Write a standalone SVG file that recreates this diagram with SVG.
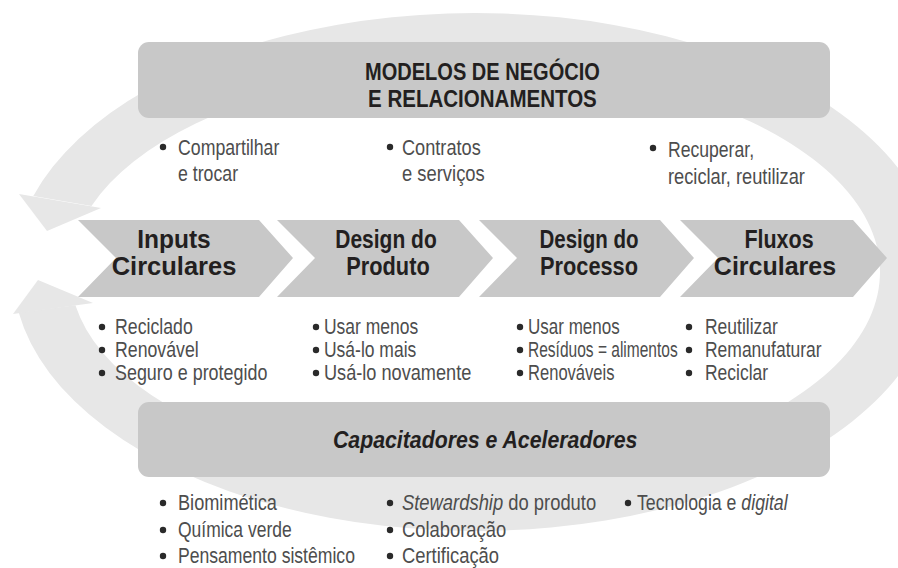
<svg xmlns="http://www.w3.org/2000/svg" width="898" height="568" viewBox="0 0 898 568">
<style>
.ring{fill:#e7e7e7}
.box{fill:#c8c8c8}
.hd{font-family:"Liberation Sans",Arial,sans-serif;font-weight:bold;fill:#231f20}
.tx{font-family:"Liberation Sans",Arial,sans-serif;fill:#4d4d4d;font-size:22px}
.it{font-style:italic}
.dot{fill:#2a2a2a}
</style>
<rect width="898" height="568" fill="#ffffff"/>
<g id="connectors">
  <path class="ring" fill-rule="evenodd" d="M33.3,196 A462,259 0 1 1 18.7,312.6 L75.4,305.3 A405,205 0 1 0 91.5,206 Z"/>
  <polygon class="ring" points="19,194 101,208 47,231"/>
  <polygon class="ring" points="13,314 93,303 38,280"/>
</g>
<g id="node-modelos">
  <rect class="box" x="138" y="42" width="692" height="76" rx="11"/>
  <text class="hd" font-size="24.5" transform="translate(365 80) scale(0.818 1)">MODELOS DE NEGÓCIO</text>
  <text class="hd" font-size="24.5" transform="translate(368 107) scale(0.838 1)">E RELACIONAMENTOS</text>
</g>
<g id="node-modelos-itens">
  <circle class="dot" cx="163" cy="147" r="3.2"/>
  <text class="tx" transform="translate(178 155) scale(0.805 1)">Compartilhar</text>
  <text class="tx" transform="translate(178 181) scale(0.805 1)">e trocar</text>
  <circle class="dot" cx="390" cy="147" r="3.2"/>
  <text class="tx" transform="translate(402 155) scale(0.826 1)">Contratos</text>
  <text class="tx" transform="translate(402 181) scale(0.836 1)">e serviços</text>
  <circle class="dot" cx="653" cy="148" r="3.2"/>
  <text class="tx" font-size="24" transform="translate(668 157) scale(0.8 1)">Recuperar,</text>
  <text class="tx" font-size="24" transform="translate(668 184) scale(0.83 1)">reciclar, reutilizar</text>
</g>
<g id="node-inputs">
  <polygon class="box" points="78,220 259,220 293,258 259,297 78,297 116,258"/>
  <text class="hd" font-size="25" text-anchor="middle" transform="translate(174 248) scale(0.98 1)">Inputs</text>
  <text class="hd" font-size="25" text-anchor="middle" transform="translate(174 275) scale(1.02 1)">Circulares</text>
  <circle class="dot" cx="102" cy="327" r="3.2"/>
  <text class="tx" transform="translate(115 334) scale(0.805 1)">Reciclado</text>
  <circle class="dot" cx="102" cy="350" r="3.2"/>
  <text class="tx" transform="translate(115 357) scale(0.805 1)">Renovável</text>
  <circle class="dot" cx="102" cy="373" r="3.2"/>
  <text class="tx" transform="translate(115 380) scale(0.815 1)">Seguro e protegido</text>
</g>
<g id="node-produto">
  <polygon class="box" points="277,220 459,220 493,258 459,297 277,297 315,258"/>
  <text class="hd" font-size="25" text-anchor="middle" transform="translate(386 248) scale(0.84 1)">Design do</text>
  <text class="hd" font-size="25" text-anchor="middle" transform="translate(388 275) scale(0.87 1)">Produto</text>
  <circle class="dot" cx="316" cy="327" r="3.2"/>
  <text class="tx" transform="translate(324 334) scale(0.795 1)">Usar menos</text>
  <circle class="dot" cx="316" cy="350" r="3.2"/>
  <text class="tx" transform="translate(324 357) scale(0.795 1)">Usá-lo mais</text>
  <circle class="dot" cx="316" cy="373" r="3.2"/>
  <text class="tx" transform="translate(324 380) scale(0.826 1)">Usá-lo novamente</text>
</g>
<g id="node-processo">
  <polygon class="box" points="479,220 660,220 694,258 660,297 479,297 517,258"/>
  <text class="hd" font-size="25" text-anchor="middle" transform="translate(589 248) scale(0.82 1)">Design do</text>
  <text class="hd" font-size="25" text-anchor="middle" transform="translate(589 275) scale(0.87 1)">Processo</text>
  <circle class="dot" cx="520" cy="327" r="3.2"/>
  <text class="tx" transform="translate(528 334) scale(0.774 1)">Usar menos</text>
  <circle class="dot" cx="520" cy="350" r="3.2"/>
  <text class="tx" transform="translate(528 357) scale(0.706 1)">Resíduos = alimentos</text>
  <circle class="dot" cx="520" cy="373" r="3.2"/>
  <text class="tx" transform="translate(528 380) scale(0.753 1)">Renováveis</text>
</g>
<g id="node-fluxos">
  <polygon class="box" points="680,220 853,220 887,258 853,297 680,297 718,258"/>
  <text class="hd" font-size="25" text-anchor="middle" transform="translate(779 248) scale(0.86 1)">Fluxos</text>
  <text class="hd" font-size="25" text-anchor="middle" transform="translate(775 275) scale(1.0 1)">Circulares</text>
  <circle class="dot" cx="689" cy="327" r="3.2"/>
  <text class="tx" transform="translate(705 334) scale(0.795 1)">Reutilizar</text>
  <circle class="dot" cx="689" cy="350" r="3.2"/>
  <text class="tx" transform="translate(705 357) scale(0.795 1)">Remanufaturar</text>
  <circle class="dot" cx="689" cy="373" r="3.2"/>
  <text class="tx" transform="translate(705 380) scale(0.795 1)">Reciclar</text>
</g>
<g id="node-capacitadores">
  <rect class="box" x="138" y="402" width="692" height="75" rx="11"/>
  <text class="hd it" font-size="24" transform="translate(333 448) scale(0.887 1)">Capacitadores e Aceleradores</text>
</g>
<g id="node-capacitadores-itens">
  <circle class="dot" cx="163" cy="503" r="3.2"/>
  <text class="tx" transform="translate(178 510) scale(0.826 1)">Biomimética</text>
  <circle class="dot" cx="163" cy="530" r="3.2"/>
  <text class="tx" transform="translate(178 537) scale(0.795 1)">Química verde</text>
  <circle class="dot" cx="163" cy="556" r="3.2"/>
  <text class="tx" transform="translate(178 563) scale(0.8 1)">Pensamento sistêmico</text>
  <circle class="dot" cx="390" cy="503" r="3.2"/>
  <text class="tx" transform="translate(402 510) scale(0.836 1)"><tspan class="it">Stewardship</tspan> do produto</text>
  <circle class="dot" cx="390" cy="530" r="3.2"/>
  <text class="tx" transform="translate(402 537) scale(0.836 1)">Colaboração</text>
  <circle class="dot" cx="390" cy="556" r="3.2"/>
  <text class="tx" transform="translate(402 563) scale(0.836 1)">Certificação</text>
  <circle class="dot" cx="628" cy="503" r="3.2"/>
  <text class="tx" transform="translate(637 510) scale(0.805 1)">Tecnologia e <tspan class="it">digital</tspan></text>
</g>
</svg>
